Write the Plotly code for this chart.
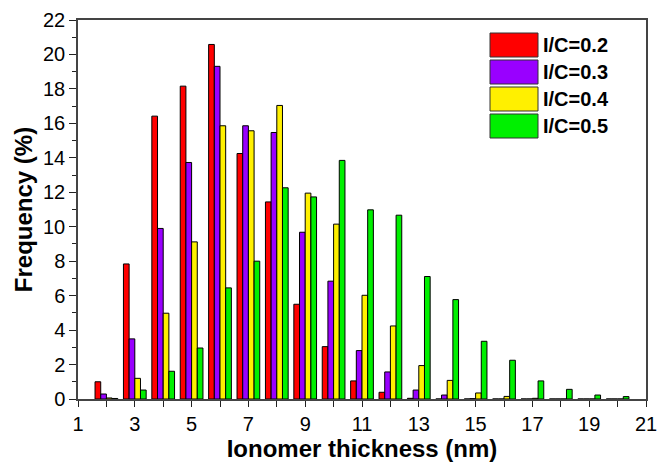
import plotly.graph_objects as go

# ---- data ----
thickness = [2, 3, 4, 5, 6, 7, 8, 9, 10, 11, 12, 13, 14, 15, 16, 17, 18, 19, 20]
ic_02 = [1.0, 7.84, 16.42, 18.16, 20.58, 14.25, 11.44, 5.50, 3.04, 1.05, 0.39, 0.04, 0, 0, 0, 0, 0, 0, 0]
ic_03 = [0.29, 3.49, 9.90, 13.73, 19.31, 15.86, 15.47, 9.68, 6.84, 2.81, 1.57, 0.52, 0.23, 0.02, 0, 0, 0, 0, 0]
ic_04 = [0.06, 1.20, 4.98, 9.12, 15.86, 15.57, 17.04, 11.95, 10.15, 6.02, 4.24, 1.94, 1.08, 0.35, 0.15, 0.04, 0, 0, 0]
ic_05 = [0.03, 0.52, 1.61, 2.96, 6.45, 8.00, 12.26, 11.73, 13.85, 10.98, 10.67, 7.11, 5.77, 3.35, 2.25, 1.05, 0.56, 0.23, 0.14]
series_names = ["I/C=0.2", "I/C=0.3", "I/C=0.4", "I/C=0.5"]
series_values = [ic_02, ic_03, ic_04, ic_05]
colors = ["#FF0000", "#9900FF", "#FFF000", "#00F000"]

FONT = "Liberation Sans, Arial, sans-serif"
W, H = 659, 463
ML, MR, MT, MB = 78, 13, 20, 64
PW, PH = W - ML - MR, H - MT - MB

fig = go.Figure()
for name, vals, col in zip(series_names, series_values, colors):
    fig.add_trace(go.Bar(x=thickness, y=vals, name=name, marker=dict(color=col, line=dict(color="black", width=1)),
                         showlegend=False))

# custom legend (large swatches, like the original)
shapes, annotations = [], []
for i, (name, col) in enumerate(zip(series_names, colors)):
    top = 33 + i * 27
    bot = top + 24
    x0, x1 = 490, 538
    shapes.append(dict(type="rect", xref="paper", yref="paper",
                       x0=(x0 - ML) / PW, x1=(x1 - ML) / PW,
                       y0=(H - MB - bot) / PH, y1=(H - MB - top) / PH,
                       fillcolor=col, line=dict(color="#333333", width=1)))
    annotations.append(dict(xref="paper", yref="paper", x=(541 - ML) / PW, y=(H - MB - (top + bot) / 2) / PH,
                            text="<b>" + name + "</b>", showarrow=False, xanchor="left", yanchor="middle",
                            font=dict(family=FONT, size=20, color="black")))

fig.update_layout(
    width=W, height=H,
    margin=dict(l=ML, r=MR, t=MT, b=MB),
    paper_bgcolor="white", plot_bgcolor="white",
    barmode="group", bargap=0.2, bargroupgap=0,
    shapes=shapes, annotations=annotations,
    font=dict(family=FONT, color="black"),
)
axis_common = dict(showline=True, linecolor="#444444", linewidth=1.5, mirror=True, ticks="outside",
                   tickwidth=1.2, tickcolor="#222222", showgrid=False, zeroline=False, automargin=False,
                   tickfont=dict(family=FONT, size=20, color="black"))
fig.update_xaxes(range=[1, 21], tick0=1, dtick=2, ticklen=6,
                 minor=dict(dtick=1, ticks="outside", ticklen=6, tickwidth=1.2, tickcolor="#222222"),
                 title=dict(text="<b>Ionomer thickness (nm)</b>", font=dict(family=FONT, size=24), standoff=4),
                 **axis_common)
fig.update_yaxes(range=[0, 22], tick0=0, dtick=2, ticklen=7,
                 minor=dict(dtick=1, ticks="outside", ticklen=4, tickwidth=1.2, tickcolor="#222222"),
                 title=dict(text="<b>Frequency (%)</b>", font=dict(family=FONT, size=24), standoff=4),
                 **axis_common)

fig.write_html("out.html")
